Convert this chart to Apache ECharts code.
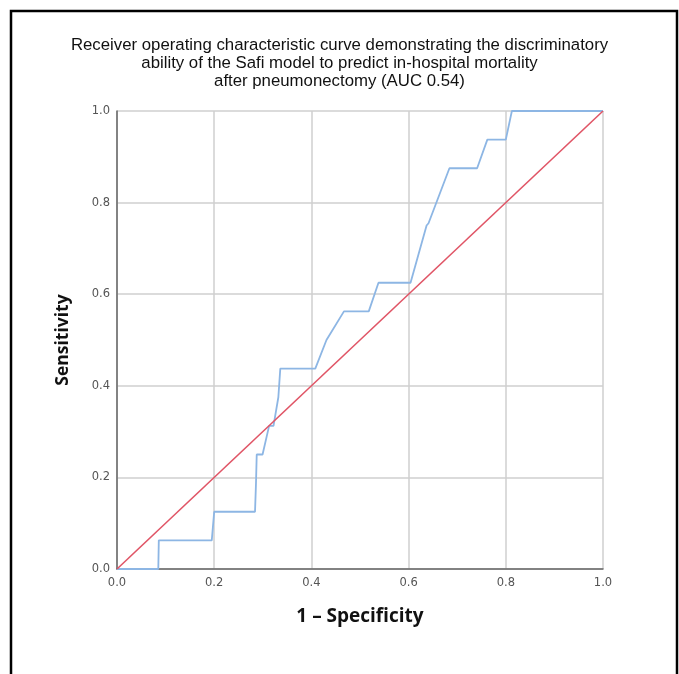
<!DOCTYPE html>
<html>
<head>
<meta charset="utf-8">
<script src="https://cdn.jsdelivr.net/npm/echarts@6/dist/echarts.min.js"></script>
<style>html,body{margin:0;padding:0;background:#fff;}#c{width:679px;height:674px;}</style>
</head>
<body>
<div id="c"></div>
<script>
// ROC curve: 1 - Specificity (FPR) and Sensitivity (TPR)
const fpr = [0, 0.085, 0.086, 0.195, 0.2, 0.284, 0.286, 0.287, 0.2875, 0.2995, 0.313, 0.322, 0.332, 0.336, 0.408, 0.431, 0.467, 0.518, 0.538, 0.604, 0.637, 0.641, 0.684, 0.741, 0.762, 0.800, 0.8125, 1.0];
const tpr = [0, 0, 0.0625, 0.0625, 0.125, 0.125, 0.1875, 0.1875, 0.25, 0.25, 0.3125, 0.3125, 0.375, 0.4375, 0.4375, 0.5, 0.5625, 0.5625, 0.625, 0.625, 0.75, 0.755, 0.875, 0.875, 0.9375, 0.9375, 1.0, 1.0];
const refX = [0, 1];
const refY = [0, 1];
const titleText = 'Receiver operating characteristic curve demonstrating the discriminatory\nability of the Safi model to predict in-hospital mortality\nafter pneumonectomy (AUC 0.54)';
const xName = '1 \u2013 Specificity';
const yName = 'Sensitivity';

const chart = echarts.init(document.getElementById('c'), null, {renderer: 'canvas'});
const labelStyle = {color: '#555', fontSize: 11.5, fontFamily: 'DejaVu Sans', formatter: v => v.toFixed(1)};
chart.setOption({
  animation: false,
  backgroundColor: '#fff',
  title: {
    text: titleText,
    left: 'center',
    top: 31,
    textStyle: {fontFamily: 'Liberation Sans', fontSize: 16.8, fontWeight: 'normal', color: '#111', lineHeight: 18}
  },
  graphic: [{
    type: 'rect', shape: {x: 11, y: 11, width: 666, height: 700},
    style: {fill: 'none', stroke: '#000', lineWidth: 2.5}, silent: true
  }],
  grid: {left: 117, right: 76, top: 111, bottom: 105},
  xAxis: {
    type: 'value', min: 0, max: 1, interval: 0.2,
    name: xName, nameLocation: 'middle', nameGap: 38,
    nameTextStyle: {fontFamily: 'Open Sans', fontWeight: 'bold', fontSize: 19, color: '#111'},
    axisLine: {show: true, onZero: false, lineStyle: {color: '#666', width: 1.5}},
    axisTick: {show: false},
    axisLabel: Object.assign({margin: 8}, labelStyle),
    splitLine: {show: true, lineStyle: {color: '#cfcfcf', width: 1.5}}
  },
  yAxis: {
    type: 'value', min: 0, max: 1, interval: 0.2,
    name: yName, nameLocation: 'middle', nameGap: 45,
    nameTextStyle: {fontFamily: 'Open Sans', fontWeight: 'bold', fontSize: 17.5, color: '#111'},
    axisLine: {show: true, onZero: false, lineStyle: {color: '#666', width: 1.5}},
    axisTick: {show: false},
    axisLabel: Object.assign({margin: 7}, labelStyle),
    splitLine: {show: true, lineStyle: {color: '#cfcfcf', width: 1.5}}
  },
  series: [
    {
      type: 'line', name: 'Reference', showSymbol: false, symbol: 'none',
      data: refX.map((x, i) => [x, refY[i]]),
      lineStyle: {color: '#e05566', width: 1.6}, z: 3
    },
    {
      type: 'line', name: 'ROC', showSymbol: false, symbol: 'none',
      data: fpr.map((x, i) => [x, tpr[i]]),
      lineStyle: {color: '#8db6e4', width: 1.8}, z: 2
    }
  ]
});
</script>
</body>
</html>
